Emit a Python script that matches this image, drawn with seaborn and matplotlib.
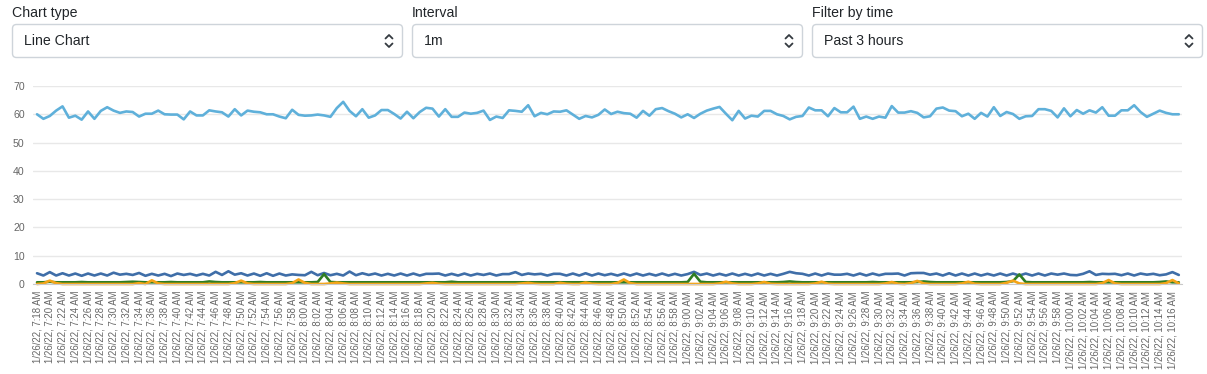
import pandas as pd
import matplotlib
matplotlib.use("Agg")
import matplotlib.pyplot as plt
import seaborn as sns
from matplotlib.patches import FancyBboxPatch
from matplotlib.lines import Line2D

W, H = 1207, 374

# one reading per minute, 7:18 AM .. 10:17 AM
times = pd.date_range("2022-01-26 07:18", periods=180, freq="min")

series_a = [
    60.0, 58.4, 59.4, 61.3, 62.8, 58.8, 59.5, 58.1, 61.0, 58.4,
    61.2, 62.5, 61.3, 60.5, 61.0, 60.8, 59.2, 60.2, 60.2, 61.3,
    60.0, 59.9, 59.9, 58.2, 61.0, 59.6, 59.6, 61.4, 61.0, 60.7,
    59.2, 61.8, 59.6, 61.3, 60.9, 60.7, 60.0, 60.0, 59.2, 58.6,
    61.6, 59.8, 59.5, 59.6, 59.9, 59.6,
    59.1, 62.2, 64.4, 61.2, 59.3, 61.8, 58.8, 59.6, 61.5, 61.5,
    60.1, 58.5, 60.9, 58.6, 60.8, 62.3, 62.0, 59.2, 61.8, 59.1,
    59.1, 60.6, 60.2, 60.5, 61.3, 58.0, 59.2, 58.7, 61.4, 61.2,
    60.9, 63.2, 59.3, 60.5, 60.0, 61.0, 60.9, 61.4, 59.9, 58.4,
    59.4, 58.9, 59.8, 61.7, 60.1, 60.9, 60.4,
    60.2, 58.8, 61.2, 59.5, 61.8, 62.2, 61.1, 60.2, 58.9, 60.0,
    58.7, 60.2, 61.3, 62.0, 62.6, 60.2, 57.9, 61.2, 58.5, 59.5,
    59.2, 61.2, 61.2, 60.0, 59.4, 58.2, 59.1, 59.4, 62.4, 61.4,
    61.4, 59.3, 62.2, 60.7, 60.7, 62.7, 58.4, 59.2, 58.4, 59.2,
    58.8, 62.9, 60.6, 60.6, 61.1, 60.5,
    58.9, 59.3, 62.0, 62.4, 61.3, 61.1, 59.3, 60.2, 58.4, 60.5,
    59.2, 62.5, 59.4, 60.8, 60.1, 58.4, 59.3, 59.4, 61.8, 61.8,
    61.2, 58.9, 62.1, 59.3, 61.5, 60.2, 61.4, 60.6, 62.5, 59.5,
    59.5, 61.4, 61.4, 63.2, 60.8, 59.1, 60.2, 61.3, 60.5, 60.0,
    60.0,
]

series_b = [
    3.8, 3.0, 4.2, 3.0, 3.8, 3.0, 3.7, 2.9, 3.7, 3.0,
    3.7, 3.0, 4.0, 3.3, 3.6, 3.2, 3.9, 2.9, 3.6, 3.0,
    3.6, 2.8, 3.7, 3.2, 3.6, 3.0, 3.6, 3.0, 4.3, 3.2,
    4.5, 3.3, 3.8, 3.0, 3.7, 2.9, 3.8, 2.9, 3.7, 3.0,
    3.4, 3.2, 3.1, 4.3, 3.1, 3.9, 3.1, 3.6, 3.0, 4.4,
    3.1, 3.8, 3.2, 3.7, 3.0, 3.6, 3.0, 3.7, 3.0, 3.7,
    3.0, 3.6, 3.6, 3.7, 3.0, 3.6, 3.0, 3.7, 3.0, 3.6,
    3.2, 3.7, 3.0, 3.5, 3.5, 4.2, 3.2, 3.7, 3.4, 3.6,
    3.0, 3.6, 3.6, 3.0, 3.7, 3.0, 3.8, 3.0, 3.7, 3.1,
    3.6, 3.0, 3.7, 3.0, 3.7, 3.0, 3.6, 3.0, 3.7, 3.0,
    3.6, 3.0, 3.5, 4.3, 3.2, 3.7, 3.0, 3.6, 3.0, 3.7,
    3.0, 3.6, 3.0, 3.7, 3.0, 3.6, 3.0, 3.6, 4.3, 3.8,
    3.6, 3.0, 3.7, 3.0, 3.7, 3.3, 3.3, 3.6, 3.0, 3.7,
    3.0, 3.7, 3.1, 3.6, 3.6, 3.7, 3.0, 3.8, 3.9, 3.9,
    3.3, 3.7, 3.0, 3.8, 3.0, 3.7, 3.0, 3.7, 3.0, 3.6,
    3.0, 3.7, 3.0, 3.7, 3.0, 3.7, 3.0, 3.7, 3.0, 3.7,
    3.3, 3.7, 3.2, 3.1, 3.6, 4.5, 3.2, 3.6, 3.5, 3.6,
    3.1, 3.7, 3.0, 3.7, 3.3, 3.6, 3.1, 3.4, 4.2, 3.2,
]

series_c = [
    0.6, 0.6, 0.8, 0.6, 0.6, 0.6, 0.6, 0.7, 0.6, 0.6,
    0.6, 0.6, 0.6, 0.6, 0.7, 0.8, 0.7, 0.6, 0.6, 0.6,
    0.6, 0.7, 0.6, 0.6, 0.6, 0.6, 0.6, 0.9, 0.7, 0.6,
    0.6, 0.6, 0.6, 0.6, 0.6, 0.7, 0.6, 0.6, 0.6, 0.6,
    0.6, 0.6, 0.6, 0.6, 0.7, 3.5, 0.7, 0.6, 0.6, 0.6,
    0.6, 0.6, 0.6, 0.6, 0.6, 0.6, 0.6, 0.6, 0.6, 0.6,
    0.6, 0.6, 0.6, 0.6, 0.6, 0.8, 0.6, 0.6, 0.6, 0.6,
    0.6, 0.6, 0.6, 0.6, 0.6, 0.6, 0.6, 0.6, 0.6, 0.6,
    0.6, 0.6, 0.6, 0.6, 0.6, 0.6, 0.6, 0.6, 0.6, 0.6,
    0.6, 0.6, 0.6, 0.6, 0.6, 0.6, 0.6, 0.6, 0.6, 0.6,
    0.6, 0.6, 0.7, 3.6, 0.8, 0.6, 0.6, 0.6, 0.6, 0.6,
    0.6, 0.6, 0.6, 0.6, 0.6, 0.6, 0.6, 0.7, 0.9, 0.7,
    0.6, 0.6, 0.6, 0.6, 0.6, 0.6, 0.6, 0.6, 0.6, 0.6,
    0.6, 0.7, 0.6, 0.6, 0.6, 0.6, 0.6, 0.6, 0.7, 0.9,
    0.7, 0.6, 0.6, 0.6, 0.6, 0.6, 0.6, 0.6, 0.6, 0.6,
    0.6, 0.6, 0.7, 1.0, 3.4, 0.7, 0.6, 0.6, 0.6, 0.6,
    0.6, 0.6, 0.6, 0.6, 0.6, 0.7, 0.6, 0.6, 0.6, 0.6,
    0.6, 0.6, 0.6, 0.6, 0.6, 0.6, 0.7, 0.9, 0.6, 0.6,
]

series_d = [
    0.0, 0.2, 1.2, 0.3, 0.0, 0.0, 0.0, 0.0, 0.0, 0.0,
    0.0, 0.0, 0.0, 0.0, 0.0, 0.0, 0.3, 0.0, 1.3, 0.2,
    0.0, 0.0, 0.0, 0.0, 0.0, 0.0, 0.0, 0.0, 0.0, 0.0,
    0.0, 0.3, 1.2, 0.2, 0.0, 0.0, 0.0, 0.0, 0.0, 0.0,
    0.3, 1.6, 0.4, 0.0, 0.0, 0.0, 0.2, 0.5, 0.2, 0.0,
    0.0, 0.0, 0.0, 0.0, 0.0, 0.0, 0.0, 0.0, 0.0, 0.0,
    0.0, 0.2, 0.4, 0.1, 0.0, 0.0, 0.0, 0.0, 0.0, 0.0,
    0.0, 0.0, 0.0, 0.0, 0.0, 0.0, 0.2, 0.4, 0.1, 0.0,
    0.0, 0.0, 0.4, 0.1, 0.0, 0.0, 0.5, 0.1, 0.0, 0.0,
    0.0, 0.4, 1.6, 0.3, 0.0, 0.0, 0.0, 0.0, 0.0, 0.0,
    0.0, 0.0, 0.0, 0.0, 0.0, 0.0, 0.0, 0.2, 0.8, 0.2,
    0.0, 0.0, 0.0, 0.2, 0.7, 0.1, 0.0, 0.0, 0.0, 0.0,
    0.0, 0.0, 0.2, 0.8, 0.1, 0.0, 0.0, 0.0, 0.0, 0.0,
    0.0, 0.0, 0.0, 0.2, 0.7, 0.1, 0.0, 0.3, 1.1, 0.2,
    0.0, 0.0, 0.0, 0.0, 0.0, 0.2, 0.8, 0.1, 0.0, 0.0,
    0.0, 0.0, 0.4, 1.2, 0.2, 0.0, 0.0, 0.0, 0.0, 0.0,
    0.0, 0.0, 0.0, 0.0, 0.0, 0.0, 0.0, 0.3, 1.4, 0.2,
    0.0, 0.0, 0.0, 0.0, 0.0, 0.0, 0.0, 0.3, 1.4, 0.2,
]

series_names = ["a", "b", "c", "d"]
series_colors = ["#5fb0da", "#3f6ea8", "#2f7d23", "#f4a417"]

tick_labels = [t.strftime("%-m/%d/%y, %-I:%M %p") for t in times[::2]]

df = pd.DataFrame({"idx": range(len(times)), "a": series_a, "b": series_b,
                   "c": series_c, "d": series_d})
long = df.melt(id_vars="idx", var_name="series", value_name="value")

sns.set_style("white")
plt.rcParams["font.family"] = ["Liberation Sans", "DejaVu Sans"]

fig = plt.figure(figsize=(W / 100, H / 100), dpi=100)

# ---- form controls above the chart ----
controls = [("Chart type", "Line Chart", 12), ("Interval", "1m", 412),
            ("Filter by time", "Past 3 hours", 812)]
for label, value, x0 in controls:
    fig.text(x0 / W, 1 - 13 / H, label, fontsize=10.2, color="#212529", va="center")
    box = FancyBboxPatch((x0 + 0.5, H - 57.5), 390, 33,
                         boxstyle="round,pad=0,rounding_size=4",
                         fc="white", ec="#ced4da", lw=1, transform=None)
    fig.add_artist(box)
    fig.text((x0 + 12) / W, 1 - 41 / H, value, fontsize=10.2, color="#212529", va="center")
    cx = x0 + 377
    fig.add_artist(Line2D([cx - 3.5, cx, cx + 3.5], [H - 38.5, H - 35, H - 38.5],
                          color="#343a40", lw=1.3, transform=None))
    fig.add_artist(Line2D([cx - 3.5, cx, cx + 3.5], [H - 43.5, H - 47, H - 43.5],
                          color="#343a40", lw=1.3, transform=None))

# ---- line chart ----
ax = fig.add_axes([33 / W, 1 - 284 / H, (1182 - 33) / W, (284 - 86) / H])
sns.lineplot(data=long, x="idx", y="value", hue="series", hue_order=series_names,
             palette=series_colors, linewidth=1.9, legend=False, ax=ax, clip_on=False)

ax.set_xlim(-0.63, 179.5)
ax.set_ylim(0, 70)
ax.set_yticks(range(0, 80, 10))
ax.yaxis.grid(True, color="#e8e8e8", lw=1)
ax.set_axisbelow(True)
ax.set_xticks(range(0, 180, 2))
ax.set_xticklabels(tick_labels, rotation=90)
ax.tick_params(axis="y", length=0, pad=6, labelsize=7.6, labelcolor="#666666")
ax.tick_params(axis="x", length=0, pad=5, labelsize=6.9, labelcolor="#666666")
ax.set_xlabel("")
ax.set_ylabel("")
for side in ["top", "left", "right"]:
    ax.spines[side].set_visible(False)
ax.spines["bottom"].set_color("#c9c9c9")

fig.savefig("out.png", dpi=100)
